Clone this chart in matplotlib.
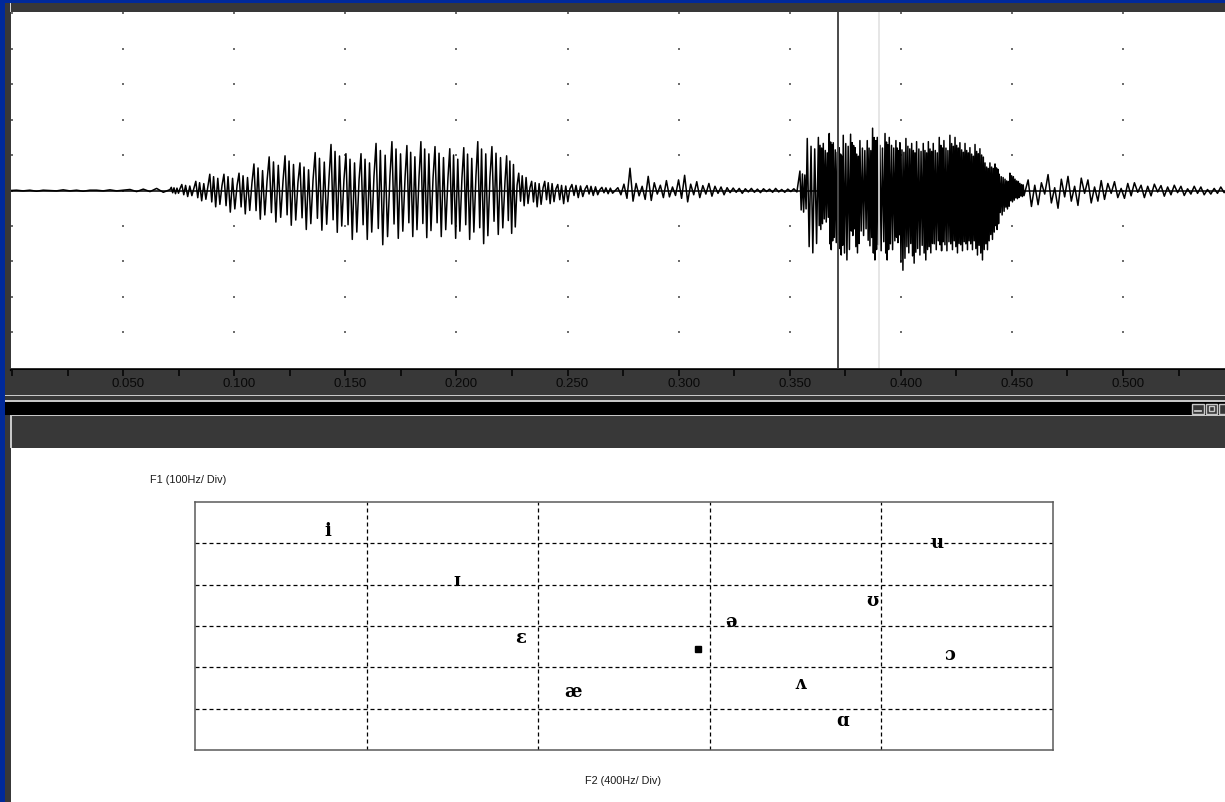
import numpy as np
import matplotlib
matplotlib.use("Agg")
import matplotlib.pyplot as plt
from matplotlib.patches import Rectangle
from matplotlib.transforms import offset_copy

W, H = 1225, 802

# ---- waveform data (time in ms, amplitude in grid divisions) ----
LEAD = [0.0, 0.01, -0.01, 0.01, -0.02, 0.01, 0.0, -0.01, 0.02, -0.01, 0.01, -0.02,
        0.01, 0.01, -0.01, 0.02, -0.01, 0.01, 0.03, -0.03, 0.04, -0.03, 0.06, -0.05]

V1_T_MS = [71.1, 75.6, 81.9, 88.2, 94.5, 101.3, 108.0, 114.8, 122.0, 128.7, 135.5,
           142.7, 149.4, 156.2, 162.9, 170.1, 176.9, 183.2, 189.5, 196.2, 202.5,
           208.8, 215.1, 221.9, 227.3, 233.1, 239.0, 244.8, 251.1, 257.9, 264.6]
V1_TOP = [0.09, 0.17, 0.26, 0.46, 0.46, 0.49, 0.75, 0.95, 0.98, 0.78, 1.07, 1.30,
          1.04, 1.04, 1.33, 1.38, 1.27, 1.38, 1.24, 1.18, 1.21, 1.38, 1.24, 0.98,
          0.49, 0.26, 0.26, 0.17, 0.17, 0.14, 0.09]
V1_BOT = [0.09, 0.17, 0.29, 0.46, 0.61, 0.66, 0.81, 0.89, 0.98, 1.10, 1.12, 1.18,
          1.38, 1.38, 1.53, 1.35, 1.30, 1.33, 1.30, 1.35, 1.38, 1.50, 1.24, 1.21,
          0.43, 0.46, 0.37, 0.37, 0.20, 0.14, 0.09]

GAP = [0.08, -0.12, 0.18, -0.22, 0.63, -0.30, 0.20, -0.15, 0.12, -0.25, 0.40, -0.28,
       0.22, -0.10, 0.15, -0.20, 0.28, -0.18, 0.10, -0.14, 0.30, -0.22, 0.43, -0.32,
       0.18, -0.12, 0.25, -0.20, 0.14, -0.10, 0.20, -0.16, 0.12, -0.08, 0.10, -0.12,
       0.08, -0.06, 0.07, -0.05, 0.06, -0.08, 0.05, -0.04, 0.06, -0.05, 0.04, -0.06,
       0.05, -0.03, 0.04, -0.05, 0.06, -0.04, 0.03, -0.05, 0.04, -0.03, 0.05, -0.04]

V2_T_MS = [354.6, 357.9, 362.9, 365.1, 367.8, 369.6, 372.3, 374.1, 377.4, 379.4,
           381.6, 384.9, 387.3, 389.4, 392.9, 394.8, 397.8, 399.6, 402.3, 404.9,
           407.1, 410.1, 412.4, 414.6, 417.3, 419.4, 422.1, 424.4, 426.6, 428.9,
           431.1, 433.4, 435.6, 437.9, 440.1, 442.4, 444.3, 446.9, 449.1, 451.4, 453.6]
V2_TOP = [0.55, 1.47, 1.50, 1.33, 1.61, 1.35, 1.21, 1.56, 1.59, 1.21, 1.41, 1.41,
          1.76, 1.50, 1.61, 1.50, 1.41, 1.35, 1.47, 1.33, 1.38, 1.33, 1.38, 1.33,
          1.50, 1.41, 1.56, 1.50, 1.35, 1.33, 1.21, 1.30, 1.18, 0.78, 0.78, 0.75,
          0.46, 0.32, 0.49, 0.32, 0.20]
V2_BOT = [0.61, 1.76, 1.10, 0.89, 1.67, 1.47, 1.82, 1.96, 1.27, 1.76, 1.27, 1.56,
          1.96, 1.70, 1.96, 1.67, 1.47, 2.25, 1.76, 2.05, 1.82, 1.96, 1.76, 1.67,
          1.70, 1.70, 1.67, 1.76, 1.70, 1.67, 1.67, 1.82, 1.96, 1.67, 1.38, 1.10,
          0.69, 0.52, 0.32, 0.23, 0.17]

TAIL = [0.30, -0.45, 0.15, -0.40, 0.22, -0.10, 0.45, -0.35, 0.08, -0.50, 0.32, -0.18,
        0.40, -0.30, 0.12, -0.42, 0.35, -0.08, 0.30, -0.35, 0.10, -0.30, 0.28, -0.25,
        0.20, -0.08, 0.25, -0.20, 0.06, -0.22, 0.20, -0.15, 0.22, -0.05, 0.15, -0.20,
        0.12, -0.15, 0.18, -0.04, 0.14, -0.16, 0.10, -0.12, 0.15, -0.06, 0.12, -0.14,
        0.05, -0.10, 0.12, -0.08, 0.10, -0.12, 0.03, -0.10, 0.06, -0.08, 0.10, -0.06, 0.05]

END_MS = 547.0
CURSOR_T = 0.3717
MARKER_T = 0.3902
TIME_TICKS = [0.05, 0.10, 0.15, 0.20, 0.25, 0.30, 0.35, 0.40, 0.45, 0.50]

# ---- vowel chart data (Hz) ----
VOWELS = ['i', 'ɪ', 'ɛ', 'æ', 'ɑ', 'ɔ', 'ʊ', 'u', 'ʌ', 'ə']
F1 = [270, 390, 530, 660, 730, 570, 440, 300, 640, 490]
F2 = [2290, 1990, 1840, 1720, 1090, 840, 1020, 870, 1190, 1350]
POINT_F1 = 556
POINT_F2 = 1428

BLUE = '#00299a'
DARK = '#383838'
LIGHT = '#c8c8c8'


def box(x0, y0, x1, y1):
    return [x0 / W, 1 - y1 / H, (x1 - x0) / W, (y1 - y0) / H]


def build_cycles(times_ms, tops, bots, phases, levels):
    t = np.asarray(times_ms, float)
    per = np.append(np.diff(t), np.diff(t)[-1])
    xs, ys = [], []
    for ti, p, a, b in zip(t, per, tops, bots):
        for ph, lv in zip(phases, levels):
            xs.append(ti + ph * p)
            ys.append(lv * a if lv > 0 else lv * b)
    return xs, ys, t[-1] + per[-1]


# assemble the trace
lead_t = np.linspace(-1.0, V1_T_MS[0], len(LEAD) + 1)[:-1]
v1_x, v1_y, v1_end = build_cycles(V1_T_MS, V1_TOP, V1_BOT,
                                  [0.0, 0.13, 0.27, 0.40, 0.55, 0.70, 0.85],
                                  [0.3, 1.0, -0.7, 0.85, -1.0, 0.75, -0.85])
gap_t = np.linspace(v1_end, V2_T_MS[0], len(GAP) + 2)[1:-1]
v2_x, v2_y, v2_end = build_cycles(V2_T_MS, V2_TOP, V2_BOT,
                                  [0.0, 0.17, 0.34, 0.5, 0.67, 0.84],
                                  [1.0, -0.9, 0.85, -1.0, 0.8, -0.85])
tail_t = np.linspace(v2_end, END_MS, len(TAIL) + 1)[1:]

wave_t = np.concatenate([lead_t, v1_x, gap_t, v2_x, tail_t]) / 1000.0
wave_y = np.concatenate([LEAD, v1_y, GAP, v2_y, TAIL])

fig = plt.figure(figsize=(W / 100, H / 100), dpi=100)
fig.patch.set_facecolor('white')

# window chrome
bg = fig.add_axes([0, 0, 1, 1])
bg.set_xlim(0, W)
bg.set_ylim(H, 0)
bg.axis('off')
for x, y, w, h, c in [
    (0, 0, W, 3, BLUE),
    (5, 3, W - 5, 9, DARK),
    (5, 3, 6, H - 3, DARK),
    (11, 368, W - 11, 27, DARK),
    (5, 394.5, W - 5, 1.8, LIGHT),
    (5, 396.3, W - 5, 3.7, DARK),
    (5, 400, W - 5, 1.8, LIGHT),
    (5, 402, W - 5, 12.5, 'black'),
    (10, 414.5, W - 10, 1.8, LIGHT),
    (10, 416, W - 10, 31.5, DARK),
    (10, 416, 1.6, 31.5, LIGHT),
    (9.5, 3, 1.5, 9, '#d8d8d8'),
    (0, 0, 5, H, BLUE),
]:
    bg.add_patch(Rectangle((x, y), w, h, facecolor=c, edgecolor='none'))
bg.plot([11, W], [369.8, 369.8], color='black', lw=1.6)

# title-bar buttons
for x, w in [(1192, 12), (1206, 11), (1219, 8)]:
    bg.add_patch(Rectangle((x, 403.5), w, 10.5, facecolor=DARK, edgecolor=LIGHT, lw=1))
bg.plot([1195, 1201], [410.5, 410.5], color=LIGHT, lw=1.3)
bg.add_patch(Rectangle((1209, 406), 5, 5, facecolor='none', edgecolor=LIGHT, lw=1))

# waveform panel
ax = fig.add_axes(box(11, 12, W, 368))
ax.set_xlim(-0.00045, 0.5459)
ax.set_ylim(-5.01, 5.04)
for s in ax.spines.values():
    s.set_visible(False)
ax.set_xticks([])
ax.set_yticks([])
gx, gy = np.meshgrid(np.arange(0, 11) * 0.05, np.arange(-4, 6))
ax.scatter(gx.ravel(), gy.ravel(), s=1.3, marker='s', color='#6e6e6e', lw=0, zorder=1)
ax.axhline(0, color='black', lw=1.1, zorder=2)
ax.plot(wave_t, wave_y, color='black', lw=1.1, zorder=3)
ax.axvline(MARKER_T, color='#e2e2e2', lw=1.2, zorder=4)
ax.axvline(CURSOR_T, color='#4a4a4a', lw=1.4, zorder=4)

# time axis bar
axb = fig.add_axes(box(11, 370, W, 395))
axb.set_xlim(ax.get_xlim())
axb.set_ylim(0, 1)
axb.set_facecolor(DARK)
for s in axb.spines.values():
    s.set_visible(False)
axb.set_yticks([])
axb.set_xticks(np.arange(0, 0.55, 0.025))
axb.xaxis.set_ticks_position('top')
axb.tick_params(axis='x', direction='in', length=4, width=1.1, color='black',
                labeltop=False, labelbottom=False)
shift = offset_copy(axb.transData, fig=fig, x=5, y=0, units='dots')
for t in TIME_TICKS:
    axb.text(t, 0.45, f'{t:.3f}', transform=shift, ha='center', va='center',
             fontsize=9.5, color='#080808', family=['Liberation Sans', 'DejaVu Sans'])

# vowel chart
bg.text(150, 480, 'F1 (100Hz/ Div)', fontsize=7.8, color='#1a1a1a', va='center',
        ha='left', family=['Liberation Sans', 'DejaVu Sans'])
bg.text(585, 781, 'F2 (400Hz/ Div)', fontsize=7.8, color='#1a1a1a', va='center',
        ha='left', family=['Liberation Sans', 'DejaVu Sans'])

axv = fig.add_axes(box(195, 502, 1053, 750))
axv.set_xlim(2600, 600)
axv.set_ylim(800, 200)
for s in axv.spines.values():
    s.set_color('#5a5a5a')
    s.set_linewidth(1.1)
axv.set_xticks([])
axv.set_yticks([])
for f2 in range(2200, 900, -400):
    axv.axvline(f2, color='black', lw=0.9, linestyle=(0, (3.2, 2.4)))
for f1 in range(300, 800, 100):
    axv.axhline(f1, color='black', lw=0.9, linestyle=(0, (3.2, 2.4)))
for v, f1, f2 in zip(VOWELS, F1, F2):
    axv.text(f2, f1, v, ha='center', va='center', fontsize=13, fontweight='bold',
             family=['DejaVu Serif'], color='black')
axv.plot([POINT_F2], [POINT_F1], marker='s', color='black', markersize=4.3, lw=0)

fig.savefig('out.png', dpi=100)
